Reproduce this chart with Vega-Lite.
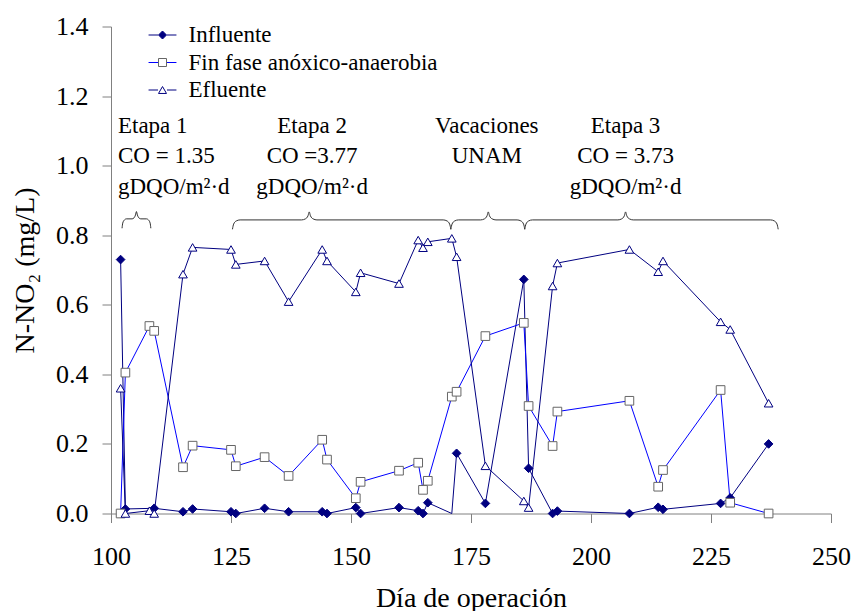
{
  "$schema": "https://vega.github.io/schema/vega-lite/v6.json",
  "width": 720,
  "height": 487,
  "autosize": {"type": "none"},
  "padding": {"left": 111, "top": 26.5, "right": 22, "bottom": 97.5},
  "background": "white",
  "config": {"view": {"stroke": null}, "font": "Liberation Serif"},
  "datasets": {
    "mediciones": [
      {"dia": 102, "serie": "Influente", "valor": 0.73},
      {"dia": 103, "serie": "Influente", "valor": 0.013},
      {"dia": 109, "serie": "Influente", "valor": 0.015},
      {"dia": 115, "serie": "Influente", "valor": 0.005},
      {"dia": 117, "serie": "Influente", "valor": 0.013},
      {"dia": 125, "serie": "Influente", "valor": 0.005},
      {"dia": 126, "serie": "Influente", "valor": 0.0},
      {"dia": 132, "serie": "Influente", "valor": 0.015},
      {"dia": 137, "serie": "Influente", "valor": 0.005},
      {"dia": 144, "serie": "Influente", "valor": 0.005},
      {"dia": 145, "serie": "Influente", "valor": 0.0},
      {"dia": 151, "serie": "Influente", "valor": 0.017},
      {"dia": 152, "serie": "Influente", "valor": 0.0},
      {"dia": 160, "serie": "Influente", "valor": 0.017},
      {"dia": 164, "serie": "Influente", "valor": 0.008},
      {"dia": 165, "serie": "Influente", "valor": 0.0},
      {"dia": 166, "serie": "Influente", "valor": 0.031},
      {"dia": 171, "serie": "Influente", "valor": 0.0},
      {"dia": 172, "serie": "Influente", "valor": 0.173},
      {"dia": 178, "serie": "Influente", "valor": 0.029},
      {"dia": 186, "serie": "Influente", "valor": 0.673},
      {"dia": 187, "serie": "Influente", "valor": 0.13},
      {"dia": 192, "serie": "Influente", "valor": 0.0},
      {"dia": 193, "serie": "Influente", "valor": 0.007},
      {"dia": 208, "serie": "Influente", "valor": 0.0},
      {"dia": 214, "serie": "Influente", "valor": 0.018},
      {"dia": 215, "serie": "Influente", "valor": 0.012},
      {"dia": 227, "serie": "Influente", "valor": 0.029},
      {"dia": 229, "serie": "Influente", "valor": 0.045},
      {"dia": 237, "serie": "Influente", "valor": 0.2},
      {"dia": 102, "serie": "Fin fase anóxico-anaerobia", "valor": 0.0},
      {"dia": 103, "serie": "Fin fase anóxico-anaerobia", "valor": 0.405},
      {"dia": 108, "serie": "Fin fase anóxico-anaerobia", "valor": 0.539},
      {"dia": 109, "serie": "Fin fase anóxico-anaerobia", "valor": 0.525},
      {"dia": 115, "serie": "Fin fase anóxico-anaerobia", "valor": 0.133},
      {"dia": 117, "serie": "Fin fase anóxico-anaerobia", "valor": 0.195},
      {"dia": 125, "serie": "Fin fase anóxico-anaerobia", "valor": 0.183},
      {"dia": 126, "serie": "Fin fase anóxico-anaerobia", "valor": 0.136},
      {"dia": 132, "serie": "Fin fase anóxico-anaerobia", "valor": 0.162},
      {"dia": 137, "serie": "Fin fase anóxico-anaerobia", "valor": 0.108},
      {"dia": 144, "serie": "Fin fase anóxico-anaerobia", "valor": 0.212},
      {"dia": 145, "serie": "Fin fase anóxico-anaerobia", "valor": 0.155},
      {"dia": 151, "serie": "Fin fase anóxico-anaerobia", "valor": 0.044},
      {"dia": 152, "serie": "Fin fase anóxico-anaerobia", "valor": 0.091},
      {"dia": 160, "serie": "Fin fase anóxico-anaerobia", "valor": 0.123},
      {"dia": 164, "serie": "Fin fase anóxico-anaerobia", "valor": 0.146},
      {"dia": 165, "serie": "Fin fase anóxico-anaerobia", "valor": 0.068},
      {"dia": 166, "serie": "Fin fase anóxico-anaerobia", "valor": 0.094},
      {"dia": 171, "serie": "Fin fase anóxico-anaerobia", "valor": 0.336},
      {"dia": 172, "serie": "Fin fase anóxico-anaerobia", "valor": 0.35},
      {"dia": 178, "serie": "Fin fase anóxico-anaerobia", "valor": 0.51},
      {"dia": 186, "serie": "Fin fase anóxico-anaerobia", "valor": 0.548},
      {"dia": 187, "serie": "Fin fase anóxico-anaerobia", "valor": 0.309},
      {"dia": 192, "serie": "Fin fase anóxico-anaerobia", "valor": 0.194},
      {"dia": 193, "serie": "Fin fase anóxico-anaerobia", "valor": 0.293},
      {"dia": 208, "serie": "Fin fase anóxico-anaerobia", "valor": 0.324},
      {"dia": 214, "serie": "Fin fase anóxico-anaerobia", "valor": 0.077},
      {"dia": 215, "serie": "Fin fase anóxico-anaerobia", "valor": 0.125},
      {"dia": 227, "serie": "Fin fase anóxico-anaerobia", "valor": 0.355},
      {"dia": 229, "serie": "Fin fase anóxico-anaerobia", "valor": 0.031},
      {"dia": 237, "serie": "Fin fase anóxico-anaerobia", "valor": 0.0},
      {"dia": 102, "serie": "Efluente", "valor": 0.36},
      {"dia": 103, "serie": "Efluente", "valor": 0.0},
      {"dia": 108, "serie": "Efluente", "valor": 0.008},
      {"dia": 109, "serie": "Efluente", "valor": 0.0},
      {"dia": 115, "serie": "Efluente", "valor": 0.688},
      {"dia": 117, "serie": "Efluente", "valor": 0.765},
      {"dia": 125, "serie": "Efluente", "valor": 0.759},
      {"dia": 126, "serie": "Efluente", "valor": 0.716},
      {"dia": 132, "serie": "Efluente", "valor": 0.726},
      {"dia": 137, "serie": "Efluente", "valor": 0.609},
      {"dia": 144, "serie": "Efluente", "valor": 0.759},
      {"dia": 145, "serie": "Efluente", "valor": 0.726},
      {"dia": 151, "serie": "Efluente", "valor": 0.637},
      {"dia": 152, "serie": "Efluente", "valor": 0.692},
      {"dia": 160, "serie": "Efluente", "valor": 0.661},
      {"dia": 164, "serie": "Efluente", "valor": 0.786},
      {"dia": 165, "serie": "Efluente", "valor": 0.764},
      {"dia": 166, "serie": "Efluente", "valor": 0.781},
      {"dia": 171, "serie": "Efluente", "valor": 0.791},
      {"dia": 172, "serie": "Efluente", "valor": 0.738},
      {"dia": 178, "serie": "Efluente", "valor": 0.137},
      {"dia": 186, "serie": "Efluente", "valor": 0.036},
      {"dia": 187, "serie": "Efluente", "valor": 0.017},
      {"dia": 192, "serie": "Efluente", "valor": 0.654},
      {"dia": 193, "serie": "Efluente", "valor": 0.72},
      {"dia": 208, "serie": "Efluente", "valor": 0.759},
      {"dia": 214, "serie": "Efluente", "valor": 0.695},
      {"dia": 215, "serie": "Efluente", "valor": 0.726},
      {"dia": 227, "serie": "Efluente", "valor": 0.551},
      {"dia": 229, "serie": "Efluente", "valor": 0.529},
      {"dia": 237, "serie": "Efluente", "valor": 0.317}
    ],
    "llaves": [
      {"llave": "Etapa 1", "dia": 102.3, "valor": 0.82},
      {"llave": "Etapa 1", "dia": 102.45, "valor": 0.835},
      {"llave": "Etapa 1", "dia": 102.8, "valor": 0.844},
      {"llave": "Etapa 1", "dia": 103.2, "valor": 0.847},
      {"llave": "Etapa 1", "dia": 104.4, "valor": 0.847},
      {"llave": "Etapa 1", "dia": 104.8, "valor": 0.85},
      {"llave": "Etapa 1", "dia": 105.1, "valor": 0.858},
      {"llave": "Etapa 1", "dia": 105.3, "valor": 0.868},
      {"llave": "Etapa 1", "dia": 105.5, "valor": 0.858},
      {"llave": "Etapa 1", "dia": 105.8, "valor": 0.85},
      {"llave": "Etapa 1", "dia": 106.2, "valor": 0.847},
      {"llave": "Etapa 1", "dia": 107.4, "valor": 0.847},
      {"llave": "Etapa 1", "dia": 107.8, "valor": 0.844},
      {"llave": "Etapa 1", "dia": 108.15, "valor": 0.835},
      {"llave": "Etapa 1", "dia": 108.3, "valor": 0.82},
      {"llave": "Etapa 2", "dia": 125.3, "valor": 0.817},
      {"llave": "Etapa 2", "dia": 125.55, "valor": 0.832},
      {"llave": "Etapa 2", "dia": 126.1, "valor": 0.841},
      {"llave": "Etapa 2", "dia": 126.9, "valor": 0.844},
      {"llave": "Etapa 2", "dia": 139.7, "valor": 0.844},
      {"llave": "Etapa 2", "dia": 140.5, "valor": 0.847},
      {"llave": "Etapa 2", "dia": 141.05, "valor": 0.856},
      {"llave": "Etapa 2", "dia": 141.3, "valor": 0.867},
      {"llave": "Etapa 2", "dia": 141.55, "valor": 0.856},
      {"llave": "Etapa 2", "dia": 142.1, "valor": 0.847},
      {"llave": "Etapa 2", "dia": 142.9, "valor": 0.844},
      {"llave": "Etapa 2", "dia": 169.2, "valor": 0.844},
      {"llave": "Etapa 2", "dia": 170.0, "valor": 0.841},
      {"llave": "Etapa 2", "dia": 170.55, "valor": 0.832},
      {"llave": "Etapa 2", "dia": 170.8, "valor": 0.817},
      {"llave": "Vacaciones", "dia": 170.8, "valor": 0.817},
      {"llave": "Vacaciones", "dia": 171.05, "valor": 0.832},
      {"llave": "Vacaciones", "dia": 171.6, "valor": 0.841},
      {"llave": "Vacaciones", "dia": 172.4, "valor": 0.844},
      {"llave": "Vacaciones", "dia": 177.0, "valor": 0.844},
      {"llave": "Vacaciones", "dia": 177.8, "valor": 0.847},
      {"llave": "Vacaciones", "dia": 178.35, "valor": 0.856},
      {"llave": "Vacaciones", "dia": 178.6, "valor": 0.867},
      {"llave": "Vacaciones", "dia": 178.85, "valor": 0.856},
      {"llave": "Vacaciones", "dia": 179.4, "valor": 0.847},
      {"llave": "Vacaciones", "dia": 180.2, "valor": 0.844},
      {"llave": "Vacaciones", "dia": 184.6, "valor": 0.844},
      {"llave": "Vacaciones", "dia": 185.4, "valor": 0.841},
      {"llave": "Vacaciones", "dia": 185.95, "valor": 0.832},
      {"llave": "Vacaciones", "dia": 186.2, "valor": 0.817},
      {"llave": "Etapa 3", "dia": 186.2, "valor": 0.817},
      {"llave": "Etapa 3", "dia": 186.45, "valor": 0.832},
      {"llave": "Etapa 3", "dia": 187.0, "valor": 0.841},
      {"llave": "Etapa 3", "dia": 187.8, "valor": 0.844},
      {"llave": "Etapa 3", "dia": 205.6, "valor": 0.844},
      {"llave": "Etapa 3", "dia": 206.4, "valor": 0.847},
      {"llave": "Etapa 3", "dia": 206.95, "valor": 0.856},
      {"llave": "Etapa 3", "dia": 207.2, "valor": 0.867},
      {"llave": "Etapa 3", "dia": 207.45, "valor": 0.856},
      {"llave": "Etapa 3", "dia": 208.0, "valor": 0.847},
      {"llave": "Etapa 3", "dia": 208.8, "valor": 0.844},
      {"llave": "Etapa 3", "dia": 237.4, "valor": 0.844},
      {"llave": "Etapa 3", "dia": 238.2, "valor": 0.841},
      {"llave": "Etapa 3", "dia": 238.75, "valor": 0.832},
      {"llave": "Etapa 3", "dia": 239.0, "valor": 0.817}
    ],
    "textos": [
      {"bloque": "Etapa 1", "texto": "Etapa 1", "dia": 101.45, "valor": 1.0934},
      {"bloque": "Etapa 1", "texto": "CO = 1.35", "dia": 101.45, "valor": 1.0086},
      {"bloque": "Etapa 1", "texto": "gDQO/m²·d", "dia": 101.45, "valor": 0.9181},
      {"bloque": "Etapa 2", "texto": "Etapa 2", "dia": 141.9, "valor": 1.0934},
      {"bloque": "Etapa 2", "texto": "CO =3.77", "dia": 141.9, "valor": 1.0086},
      {"bloque": "Etapa 2", "texto": "gDQO/m²·d", "dia": 141.9, "valor": 0.9181},
      {"bloque": "Vacaciones", "texto": "Vacaciones", "dia": 178.3, "valor": 1.0934},
      {"bloque": "Vacaciones", "texto": "UNAM", "dia": 178.3, "valor": 1.0086},
      {"bloque": "Etapa 3", "texto": "Etapa 3", "dia": 207.2, "valor": 1.0934},
      {"bloque": "Etapa 3", "texto": "CO = 3.73", "dia": 207.2, "valor": 1.0086},
      {"bloque": "Etapa 3", "texto": "gDQO/m²·d", "dia": 207.2, "valor": 0.9181}
    ]
  },
  "encoding": {
    "x": {
      "field": "dia",
      "type": "quantitative",
      "scale": {"domain": [100, 250], "nice": false, "zero": false},
      "axis": {
        "title": "Día de operación",
        "values": [100, 125, 150, 175, 200, 225, 250],
        "format": "d",
        "grid": false,
        "tickSize": 9,
        "tickColor": "#808080",
        "domainColor": "#808080",
        "labelFont": "Liberation Serif",
        "labelFontSize": 26,
        "labelColor": "#000000",
        "labelPadding": 21,
        "labelFlush": false,
        "labelOverlap": false,
        "titleFont": "Liberation Serif",
        "titleFontSize": 28,
        "titleFontWeight": "normal",
        "titleColor": "#000000",
        "titleY": 84.5,
        "titleBaseline": "middle"
      }
    },
    "y": {
      "field": "valor",
      "type": "quantitative",
      "scale": {"domain": [0, 1.4], "nice": false},
      "axis": {
        "title": "N-NO₂ (mg/L)",
        "values": [0, 0.2, 0.4, 0.6, 0.8, 1.0, 1.2, 1.4],
        "format": ".1f",
        "grid": false,
        "tickSize": 9,
        "tickColor": "#808080",
        "domainColor": "#808080",
        "labelFont": "Liberation Serif",
        "labelFontSize": 26,
        "labelColor": "#000000",
        "labelPadding": 14,
        "labelFlush": false,
        "labelOverlap": false,
        "titleFont": "Liberation Serif",
        "titleFontSize": 28,
        "titleFontWeight": "normal",
        "titleColor": "#000000",
        "titleX": -86,
        "titleY": 243.5,
        "titleBaseline": "middle"
      }
    }
  },
  "layer": [
    {
      "data": {"name": "llaves"},
      "mark": {"type": "line", "interpolate": "monotone", "stroke": "#333333", "strokeWidth": 1},
      "encoding": {"detail": {"field": "llave", "type": "nominal"}}
    },
    {
      "data": {"name": "mediciones"},
      "mark": {"type": "line", "strokeWidth": 1},
      "encoding": {
        "color": {
          "field": "serie",
          "type": "nominal",
          "sort": ["Influente", "Fin fase anóxico-anaerobia", "Efluente"],
          "scale": {"range": ["#000080", "#0000FF", "#000080"]},
          "legend": {
            "orient": "none",
            "legendX": 40,
            "legendY": -3,
            "title": null,
            "padding": 0,
            "symbolType": "M-3.1,0H-1M1,0H3.1",
            "symbolSize": 81,
            "symbolStrokeWidth": 1,
            "labelFont": "Liberation Serif",
            "labelFontSize": 23,
            "labelColor": "#000000",
            "labelLimit": 500,
            "labelOffset": 14.5,
            "rowPadding": 3.5
          }
        }
      }
    },
    {
      "data": {"name": "mediciones"},
      "transform": [{"filter": "!(datum.serie === 'Influente' && datum.dia === 171)"}],
      "mark": {"type": "point", "opacity": 1, "strokeWidth": 1, "size": 75},
      "encoding": {
        "shape": {
          "field": "serie",
          "type": "nominal",
          "scale": {
            "domain": ["Influente", "Fin fase anóxico-anaerobia", "Efluente"],
            "range": ["diamond", "square", "triangle-up"]
          },
          "legend": {
            "orient": "none",
            "legendX": 40,
            "legendY": -3,
            "title": null,
            "padding": 0,
            "symbolSize": 64,
            "symbolStrokeWidth": 1,
            "symbolOpacity": 1,
            "labelFont": "Liberation Serif",
            "labelFontSize": 23,
            "labelColor": "transparent",
            "labelLimit": 500,
            "labelOffset": 14.5,
            "rowPadding": 3.5
          }
        },
        "fill": {
          "field": "serie",
          "type": "nominal",
          "scale": {
            "domain": ["Influente", "Fin fase anóxico-anaerobia", "Efluente"],
            "range": ["#000080", "#ffffff", "#ffffff"]
          },
          "legend": null
        },
        "stroke": {
          "field": "serie",
          "type": "nominal",
          "scale": {
            "domain": ["Influente", "Fin fase anóxico-anaerobia", "Efluente"],
            "range": ["#000080", "#666666", "#000080"]
          },
          "legend": null
        }
      }
    },
    {
      "data": {"name": "textos"},
      "transform": [{"filter": "datum.bloque === 'Etapa 1'"}],
      "mark": {"type": "text", "align": "left", "baseline": "alphabetic", "font": "Liberation Serif", "fontSize": 23, "color": "#000000"},
      "encoding": {"text": {"field": "texto", "type": "nominal"}}
    },
    {
      "data": {"name": "textos"},
      "transform": [{"filter": "datum.bloque !== 'Etapa 1'"}],
      "mark": {"type": "text", "align": "center", "baseline": "alphabetic", "font": "Liberation Serif", "fontSize": 23, "color": "#000000"},
      "encoding": {"text": {"field": "texto", "type": "nominal"}}
    }
  ]
}
